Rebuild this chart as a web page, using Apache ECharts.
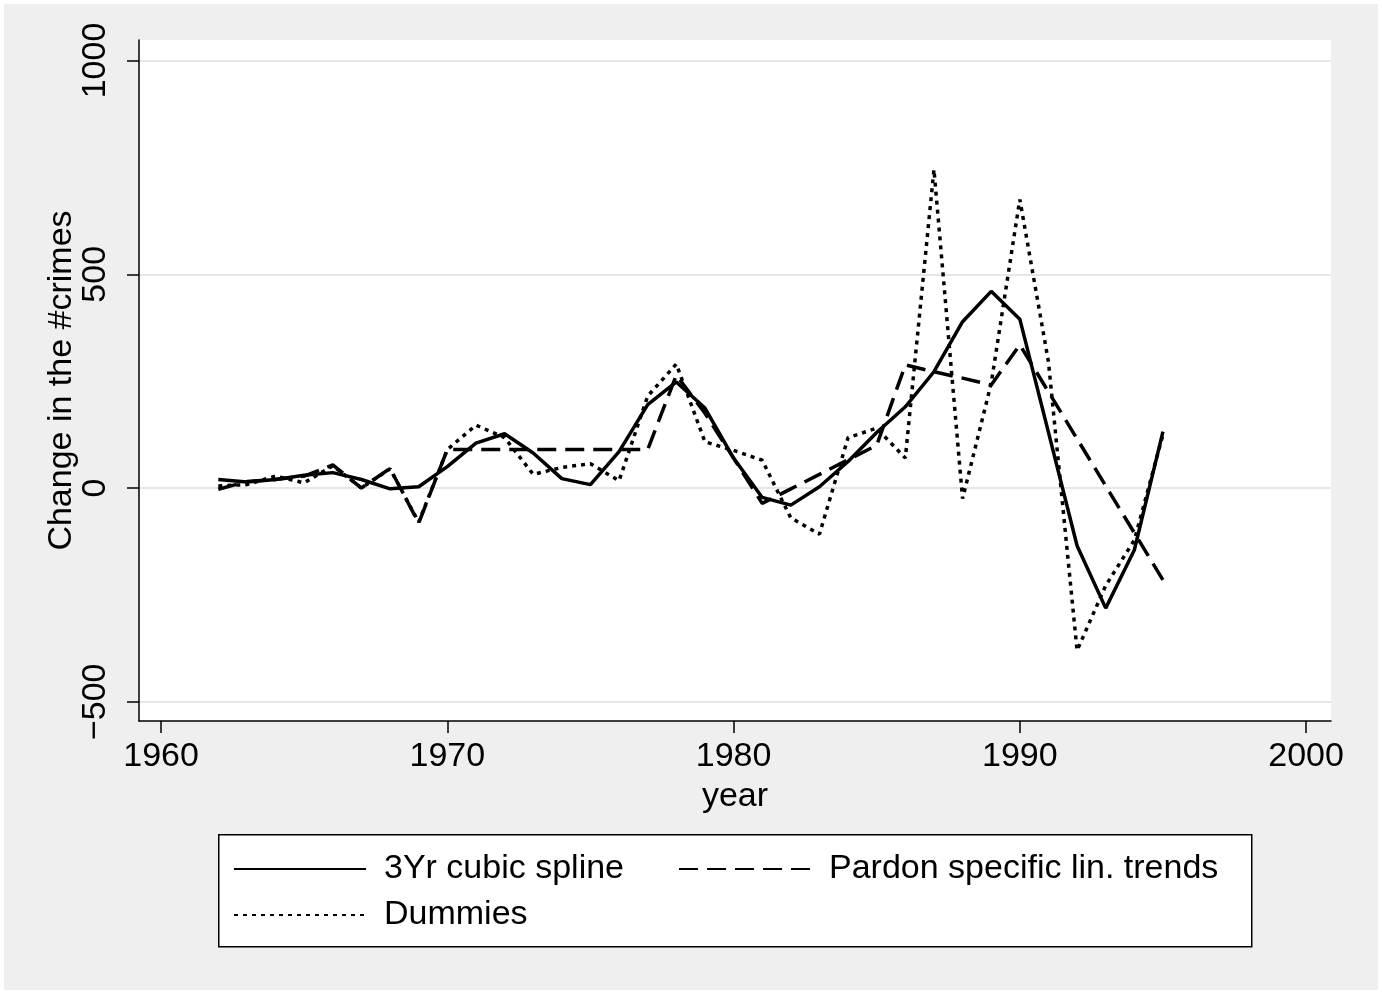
<!DOCTYPE html>
<html>
<head>
<meta charset="utf-8">
<script src="https://cdn.jsdelivr.net/npm/echarts@6/dist/echarts.min.js"></script>
<style>
  html, body { margin: 0; padding: 0; background: #ffffff; }
  #chart { position: absolute; left: 0; top: 0; width: 1382px; height: 994px;
           background: #efefef; box-shadow: inset 0 0 0 4px #ffffff; }
</style>
</head>
<body>
<div id="chart"></div>
<script>
// ---- data ----
const years = [1962,1963,1964,1965,1966,1967,1968,1969,1970,1971,1972,1973,1974,1975,1976,1977,1978,1979,1980,1981,1982,1983,1984,1985,1986,1987,1988,1989,1990,1991,1992,1993,1994,1995];
const cubicSpline = [20,14,20,30,36,20,-2,3,50,105,127,82,22,8,85,195,248,187,70,-22,-40,3,62,130,190,272,389,460,395,130,-135,-281,-145,132];
const pardonTrends = [-3,15,20,28,54,0,46,-82,90,90,90,90,90,90,90,90,264,175,70,-36,-2,32,66,100,288,272,257,241,335,225,115,5,-105,-215];
const dummies = [5,8,28,12,52,0,45,-80,90,147,118,32,48,57,17,215,290,108,88,65,-70,-108,118,140,70,745,-25,245,675,295,-380,-228,-122,125];
const xTicks = [1960,1970,1980,1990,2000];
const yTicks = [-500,0,500,1000];
const seriesNames = ['3Yr cubic spline','Pardon specific lin. trends','Dummies'];

const pair = vals => years.map((y,i) => [y, vals[i]]);
const fmt = v => (v < 0 ? '\u2212' + Math.abs(v) : String(v));
const FONT = 'Liberation Sans, Arial, Helvetica, sans-serif';

const chart = echarts.init(document.getElementById('chart'), null, {renderer:'canvas'});
chart.setOption({
  backgroundColor: 'transparent',
  animation: false,
  textStyle: { fontFamily: FONT, color: '#000' },
  grid: { left: 139, top: 40, width: 1192, height: 681, show: true,
          backgroundColor: '#ffffff', borderWidth: 0, containLabel: false },
  xAxis: {
    type: 'value', min: 1959.23, max: 2000.87,
    name: 'year', nameLocation: 'middle', nameGap: 59,
    nameTextStyle: { fontSize: 34, color: '#000', fontFamily: FONT },
    axisLine: { show: true, onZero: false, lineStyle: { color: '#000', width: 1.5 } },
    axisTick: { show: true, length: 12, inside: false, customValues: xTicks,
                lineStyle: { color: '#000', width: 1.5 } },
    axisLabel: { customValues: xTicks, formatter: fmt, fontSize: 34, color: '#000', margin: 19, fontFamily: FONT },
    splitLine: { show: false }
  },
  yAxis: {
    type: 'value', min: -545, max: 1048,
    name: 'Change in the #crimes', nameLocation: 'middle', nameGap: 60, nameRotate: 90,
    nameMoveOverlap: false,
    nameTextStyle: { fontSize: 34, color: '#000', fontFamily: FONT },
    axisLine: { show: true, onZero: false, lineStyle: { color: '#000', width: 1.5 } },
    axisTick: { show: true, length: 12, inside: false, customValues: yTicks,
                lineStyle: { color: '#000', width: 1.5 } },
    axisLabel: { customValues: yTicks, formatter: fmt, fontSize: 34, color: '#000', rotate: 90, margin: 26, fontFamily: FONT },
    splitLine: { show: true, customValues: yTicks, lineStyle: { color: '#e6e6e6', width: 2 } }
  },
  graphic: [{
    type: 'rect', z: 0, left: 218, top: 834,
    shape: { width: 1033, height: 112 },
    style: { fill: '#ffffff', stroke: '#000', lineWidth: 1.5 }
  }],
  legend: [
    { data: [seriesNames[0], seriesNames[1]], left: 233, top: 852, orient: 'horizontal',
      itemWidth: 132, itemHeight: 20, itemGap: 54, padding: 0, z: 5,
      itemStyle: { opacity: 0 },
      textStyle: { fontSize: 34, color: '#000', fontFamily: FONT, padding: [0,0,0,13] } },
    { data: [seriesNames[2]], left: 233, top: 898, orient: 'horizontal',
      itemWidth: 132, itemHeight: 20, padding: 0, z: 5,
      itemStyle: { opacity: 0 },
      textStyle: { fontSize: 34, color: '#000', fontFamily: FONT, padding: [0,0,0,13] } }
  ],
  series: [
    { name: seriesNames[0], type: 'line', data: pair(cubicSpline), symbol: 'none', showSymbol: false,
      lineStyle: { color: '#000', width: 3.5, type: 'solid' }, itemStyle: { color: '#000' } },
    { name: seriesNames[1], type: 'line', data: pair(pardonTrends), symbol: 'none', showSymbol: false,
      lineStyle: { color: '#000', width: 3.5, type: [19, 9] }, itemStyle: { color: '#000' } },
    { name: seriesNames[2], type: 'line', data: pair(dummies), symbol: 'none', showSymbol: false,
      lineStyle: { color: '#000', width: 3.5, type: [4, 5] }, itemStyle: { color: '#000' } }
  ]
});
</script>
</body>
</html>
